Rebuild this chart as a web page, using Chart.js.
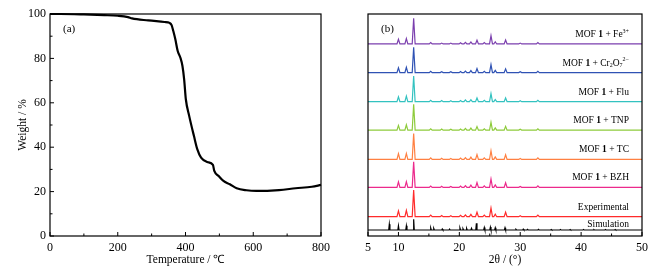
<!DOCTYPE html>
<html>
<head>
<meta charset="utf-8">
<script src="https://cdn.jsdelivr.net/npm/chart.js@4.4.1/dist/chart.umd.min.js"></script>
<style>
html, body { margin: 0; padding: 0; background: #fff; }
#wrap { position: relative; width: 671px; height: 277px; }
#tga { position: absolute; left: 0; top: 0; }
#xrd { position: absolute; left: 335px; top: 0; }
</style>
</head>
<body>
<div id="wrap">
  <canvas id="tga" width="335" height="277"></canvas>
  <canvas id="xrd" width="336" height="277"></canvas>
</div>
<script>
// (a) TGA curve
var TEMP   = [0, 30, 100, 160, 200, 230, 242, 290, 338, 353, 359, 364, 370, 377, 385, 391, 396, 401, 411, 425, 435, 446, 464, 481, 485, 498, 512, 531, 551, 580, 609, 676, 725, 773, 800];
var WEIGHT = [100, 100, 99.8, 99.5, 99.2, 98.6, 98.0, 97.1, 96.4, 96.0, 95.0, 92.3, 88.6, 83.3, 80.3, 76.6, 70.6, 61.6, 54.0, 45.0, 39.0, 35.3, 33.3, 32.0, 29.3, 27.0, 24.8, 23.3, 21.5, 20.6, 20.3, 20.7, 21.5, 22.2, 23.0];
var TGA_X_TICKS = [0, 200, 400, 600, 800];
var TGA_X_MINOR = [100, 300, 500, 700];
var TGA_Y_TICKS = [0, 20, 40, 60, 80, 100];
var TGA_Y_MINOR = [10, 30, 50, 70, 90];

// (b) PXRD patterns: peak positions (2theta) and heights
var PEAKS_2THETA = [10.0, 11.3, 12.5, 15.3, 17.1, 18.6, 20.2, 21.0, 21.9, 22.9, 24.1, 25.2, 25.9, 27.6, 30.0, 32.9];
var FE_H   = [2.1, 2.4, 11.6, 0.6, 0.4, 0.4, 0.5, 0.75, 0.9, 1.7, 0.6, 3.7, 1.0, 1.8, 0.4, 0.6];
var CR_H   = [2.2, 2.4, 11.4, 0.6, 0.4, 0.4, 0.5, 0.7, 0.9, 1.8, 0.6, 3.6, 1.0, 1.7, 0.4, 0.6];
var FLU_H  = [2.2, 2.5, 11.6, 0.6, 0.5, 0.4, 0.5, 0.8, 0.9, 1.7, 0.6, 3.6, 1.0, 1.7, 0.4, 0.6];
var TNP_H  = [2.1, 2.4, 11.6, 0.6, 0.5, 0.4, 0.5, 0.8, 0.9, 1.6, 0.6, 3.5, 1.0, 1.7, 0.4, 0.6];
var TC_H   = [2.6, 2.7, 11.7, 0.7, 0.5, 0.4, 0.6, 0.8, 1.0, 2.2, 0.7, 3.9, 1.1, 2.1, 0.4, 0.7];
var BZH_H  = [2.5, 2.6, 11.5, 0.6, 0.5, 0.4, 0.6, 0.8, 1.0, 2.2, 0.7, 3.8, 1.1, 2.1, 0.4, 0.7];
var EXP_H  = [2.6, 2.8, 12.0, 0.7, 0.5, 0.4, 0.6, 0.8, 1.0, 2.0, 0.7, 3.9, 1.1, 2.0, 0.4, 0.7];
var SIM_2THETA = [8.5, 10.0, 11.3, 12.5, 15.3, 15.8, 17.2, 18.4, 20.1, 20.6, 21.2, 22.0, 22.8, 24.1, 25.1, 25.9, 27.5, 29.3, 30.5, 31.2, 33.0, 35.1, 36.6, 38.2, 40.4, 42.1, 44.0, 45.6];
var SIM_H      = [2.6, 1.9, 1.9, 4.8, 0.9, 0.7, 0.5, 0.4, 0.9, 0.6, 0.7, 0.8, 3.0, 1.1, 1.3, 1.0, 1.0, 0.3, 0.4, 0.3, 0.3, 0.25, 0.2, 0.2, 0.2, 0.2, 0.2, 0.2];
var STACK_OFFSETS = [86.5, 73.6, 60.5, 47.7, 34.5, 21.9, 8.7, 2.7];
var XRD_X_TICKS = [5, 10, 20, 30, 40, 50];
var XRD_X_MINOR = [15, 25, 35, 45];

var PATTERN_LABELS = [
  [['MOF ', ''], ['1', 'b'], [' + Fe', ''], ['3+', 'sup']],
  [['MOF ', ''], ['1', 'b'], [' + Cr', ''], ['2', 'sub'], ['O', ''], ['7', 'sub'], ['2\u2212', 'sup']],
  [['MOF ', ''], ['1', 'b'], [' + Flu', '']],
  [['MOF ', ''], ['1', 'b'], [' + TNP', '']],
  [['MOF ', ''], ['1', 'b'], [' + TC', '']],
  [['MOF ', ''], ['1', 'b'], [' + BZH', '']],
  [['Experimental', '']],
  [['Simulation', '']]
];
var COLORS = ['#7b3fae', '#2f52b4', '#33c2c0', '#8ecb3c', '#ff8042', '#ec2a8c', '#ff2b2b', '#000000'];

var SERIF = 'Liberation Serif';

function peakLine(pos, h, off, w) {
  var pts = [{x: 5, y: off}];
  for (var i = 0; i < pos.length; i++) {
    pts.push({x: pos[i] - w, y: off});
    pts.push({x: pos[i], y: off + h[i]});
    pts.push({x: pos[i] + w, y: off});
  }
  pts.push({x: 50, y: off});
  return pts;
}

var frameTicks = {
  id: 'frameTicks',
  afterDraw: function (chart, args, o) {
    var ctx = chart.ctx, a = chart.chartArea;
    var xs = chart.scales.x, ys = chart.scales.y;
    ctx.save();
    ctx.strokeStyle = '#000';
    ctx.lineWidth = 1.2;
    ctx.strokeRect(a.left, a.top, a.right - a.left, a.bottom - a.top);
    ctx.lineWidth = 1;
    ctx.beginPath();
    (o.xMajor || []).forEach(function (v) { var p = xs.getPixelForValue(v); ctx.moveTo(p, a.bottom); ctx.lineTo(p, a.bottom - 4); });
    (o.xMinor || []).forEach(function (v) { var p = xs.getPixelForValue(v); ctx.moveTo(p, a.bottom); ctx.lineTo(p, a.bottom - 2.5); });
    (o.yMajor || []).forEach(function (v) { var p = ys.getPixelForValue(v); ctx.moveTo(a.left, p); ctx.lineTo(a.left + 4, p); });
    (o.yMinor || []).forEach(function (v) { var p = ys.getPixelForValue(v); ctx.moveTo(a.left, p); ctx.lineTo(a.left + 2.5, p); });
    ctx.stroke();
    ctx.fillStyle = '#000';
    ctx.font = '11px "' + SERIF + '"';
    ctx.textBaseline = 'middle';
    ctx.textAlign = 'left';
    ctx.fillText(o.tag, a.left + 13, a.top + 15);

    if (o.labels) {
      o.labels.forEach(function (segs, i) {
        var y = ys.getPixelForValue(STACK_OFFSETS[i]) - (i === 7 ? 6 : 9.5);
        var fontOf = function (k) {
          if (k === 'b') return 'bold 9.5px "' + SERIF + '"';
          if (k === 'sup' || k === 'sub') return '6px "' + SERIF + '"';
          return '9.5px "' + SERIF + '"';
        };
        var total = 0;
        segs.forEach(function (s) { ctx.font = fontOf(s[1]); total += ctx.measureText(s[0]).width; });
        var x = a.right - 13 - total;
        segs.forEach(function (s) {
          ctx.font = fontOf(s[1]);
          var dy = s[1] === 'sup' ? -3.5 : (s[1] === 'sub' ? 2.5 : 0);
          ctx.fillText(s[0], x, y + dy);
          x += ctx.measureText(s[0]).width;
        });
      });
    }
    ctx.restore();
  }
};

var tickFont = {family: SERIF, size: 12};
var titleFont = {family: SERIF, size: 11.5};

new Chart(document.getElementById('tga'), {
  type: 'line',
  data: {
    datasets: [{
      data: TEMP.map(function (t, i) { return {x: t, y: WEIGHT[i]}; }),
      borderColor: '#000',
      borderWidth: 2.2,
      pointRadius: 0,
      cubicInterpolationMode: 'monotone',
      clip: false
    }]
  },
  options: {
    responsive: false,
    animation: false,
    layout: {padding: {top: 14, right: 9, left: 0, bottom: 0}},
    plugins: {
      legend: {display: false},
      tooltip: {enabled: false},
      frameTicks: {xMajor: TGA_X_TICKS, xMinor: TGA_X_MINOR, yMajor: TGA_Y_TICKS, yMinor: TGA_Y_MINOR, tag: '(a)'}
    },
    scales: {
      x: {
        type: 'linear', min: 0, max: 800,
        grid: {display: false, drawTicks: false}, border: {display: false},
        afterBuildTicks: function (s) { s.ticks = TGA_X_TICKS.map(function (v) { return {value: v}; }); },
        ticks: {color: '#000', font: tickFont, padding: 5, maxRotation: 0},
        title: {display: true, text: 'Temperature / \u2103', color: '#000', font: titleFont, padding: {top: 0, bottom: 10}},
        afterFit: function (s) { s.height = 41; }
      },
      y: {
        type: 'linear', min: 0, max: 100,
        grid: {display: false, drawTicks: false}, border: {display: false},
        afterBuildTicks: function (s) { s.ticks = TGA_Y_TICKS.map(function (v) { return {value: v}; }); },
        ticks: {color: '#000', font: tickFont, padding: 4},
        title: {display: true, text: 'Weight / %', color: '#000', font: titleFont, padding: {top: 16, bottom: 16}},
        afterFit: function (s) { s.width = 50; }
      }
    }
  },
  plugins: [frameTicks]
});

var xrdSets = [
  peakLine(PEAKS_2THETA, FE_H, STACK_OFFSETS[0], 0.24),
  peakLine(PEAKS_2THETA, CR_H, STACK_OFFSETS[1], 0.24),
  peakLine(PEAKS_2THETA, FLU_H, STACK_OFFSETS[2], 0.24),
  peakLine(PEAKS_2THETA, TNP_H, STACK_OFFSETS[3], 0.24),
  peakLine(PEAKS_2THETA, TC_H, STACK_OFFSETS[4], 0.24),
  peakLine(PEAKS_2THETA, BZH_H, STACK_OFFSETS[5], 0.24),
  peakLine(PEAKS_2THETA, EXP_H, STACK_OFFSETS[6], 0.24),
  peakLine(SIM_2THETA, SIM_H, STACK_OFFSETS[7], 0.1)
].map(function (pts, i) {
  return {data: pts, borderColor: COLORS[i], borderWidth: 1.2, pointRadius: 0, tension: 0};
});

new Chart(document.getElementById('xrd'), {
  type: 'line',
  data: {datasets: xrdSets},
  options: {
    responsive: false,
    animation: false,
    layout: {padding: {top: 14, right: 29, left: 0, bottom: 0}},
    plugins: {
      legend: {display: false},
      tooltip: {enabled: false},
      frameTicks: {xMajor: XRD_X_TICKS, xMinor: XRD_X_MINOR, tag: '(b)', labels: PATTERN_LABELS}
    },
    scales: {
      x: {
        type: 'linear', min: 5, max: 50,
        grid: {display: false, drawTicks: false}, border: {display: false},
        afterBuildTicks: function (s) { s.ticks = XRD_X_TICKS.map(function (v) { return {value: v}; }); },
        ticks: {color: '#000', font: tickFont, padding: 5, maxRotation: 0},
        title: {display: true, text: '2\u03b8 / (\u00b0)', color: '#000', font: titleFont, padding: {top: 0, bottom: 10}},
        afterFit: function (s) { s.height = 41; }
      },
      y: {
        type: 'linear', min: 0, max: 100,
        grid: {display: false, drawTicks: false}, border: {display: false},
        ticks: {display: false},
        afterFit: function (s) { s.width = 33; }
      }
    }
  },
  plugins: [frameTicks]
});
</script>
</body>
</html>
